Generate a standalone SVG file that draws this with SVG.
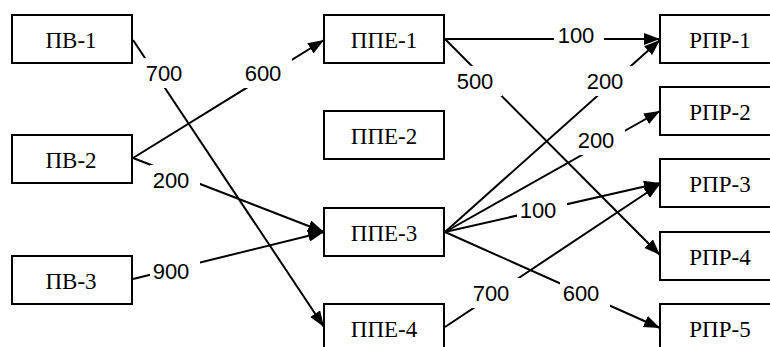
<svg xmlns="http://www.w3.org/2000/svg" width="770" height="347" viewBox="0 0 770 347">
<style>
.box{fill:#fff;stroke:#000;stroke-width:2}
.nt{font-family:'Liberation Serif','Times New Roman',serif;font-size:23px;fill:#000;text-anchor:middle}
.ln{stroke:#000;stroke-width:2;fill:none;marker-end:url(#ah)}
.lb{fill:#fff}
.lt{font-family:'Liberation Sans',Arial,sans-serif;font-size:22px;fill:#000;text-anchor:middle}
</style>
<defs>
<marker id="ah" markerUnits="userSpaceOnUse" markerWidth="18" markerHeight="12" refX="16" refY="6" orient="auto">
<path d="M0,0 L16,6 L0,12 Z" fill="#000"/>
</marker>
</defs>
<rect width="770" height="347" fill="#fff"/>
<g id="connectors">
<line class="ln" x1="133" y1="40" x2="324" y2="327"/>
<line class="ln" x1="133" y1="158" x2="324" y2="40"/>
<line class="ln" x1="133" y1="158" x2="324" y2="232"/>
<line class="ln" x1="133" y1="279" x2="324" y2="232"/>
<line class="ln" x1="445" y1="39" x2="660" y2="39"/>
<line class="ln" x1="445" y1="39" x2="660" y2="255"/>
<line class="ln" x1="445" y1="232" x2="660" y2="40"/>
<line class="ln" x1="445" y1="232" x2="660" y2="111"/>
<line class="ln" x1="445" y1="232" x2="660" y2="183"/>
<line class="ln" x1="445" y1="232" x2="660" y2="328"/>
<line class="ln" x1="445" y1="327" x2="660" y2="184"/>
<g id="labels">
<rect class="lb" x="142" y="58" width="50" height="30"/><text class="lt" x="164" y="81">700</text>
<rect class="lb" x="242" y="58" width="50" height="30"/><text class="lt" x="263" y="81">600</text>
<rect class="lb" x="150" y="165" width="50" height="30"/><text class="lt" x="171" y="188">200</text>
<rect class="lb" x="150" y="256" width="50" height="30"/><text class="lt" x="171" y="279">900</text>
<rect class="lb" x="554" y="20" width="50" height="30"/><text class="lt" x="576" y="43">100</text>
<rect class="lb" x="454" y="66" width="48" height="30"/><text class="lt" x="475" y="89">500</text>
<rect class="lb" x="584" y="66" width="50" height="30"/><text class="lt" x="605" y="89">200</text>
<rect class="lb" x="575" y="125" width="50" height="30"/><text class="lt" x="596" y="148">200</text>
<rect class="lb" x="517" y="195" width="50" height="30"/><text class="lt" x="538" y="218">100</text>
<rect class="lb" x="560" y="278" width="50" height="30"/><text class="lt" x="581" y="301">600</text>
<rect class="lb" x="470" y="278" width="50" height="30"/><text class="lt" x="491" y="301">700</text>
</g>
</g>
<g id="pv1"><rect class="box" x="12" y="15" width="120" height="48"/><text class="nt" x="71" y="48">ПВ-1</text></g>
<g id="pv2"><rect class="box" x="12" y="135" width="120" height="48"/><text class="nt" x="71" y="168">ПВ-2</text></g>
<g id="pv3"><rect class="box" x="12" y="256" width="120" height="48"/><text class="nt" x="71" y="289">ПВ-3</text></g>
<g id="ppe1"><rect class="box" x="324" y="15" width="120" height="48"/><text class="nt" x="384" y="48">ППЕ-1</text></g>
<g id="ppe2"><rect class="box" x="324" y="111" width="120" height="48"/><text class="nt" x="384" y="144">ППЕ-2</text></g>
<g id="ppe3"><rect class="box" x="324" y="208" width="120" height="48"/><text class="nt" x="384" y="241">ППЕ-3</text></g>
<g id="ppe4"><rect class="box" x="324" y="304" width="120" height="48"/><text class="nt" x="384" y="337">ППЕ-4</text></g>
<g id="rpr1"><rect class="box" x="660" y="15" width="120" height="48"/><text class="nt" x="720" y="48">РПР-1</text></g>
<g id="rpr2"><rect class="box" x="660" y="87" width="120" height="48"/><text class="nt" x="720" y="120">РПР-2</text></g>
<g id="rpr3"><rect class="box" x="660" y="159" width="120" height="48"/><text class="nt" x="720" y="192">РПР-3</text></g>
<g id="rpr4"><rect class="box" x="660" y="232" width="120" height="48"/><text class="nt" x="720" y="265">РПР-4</text></g>
<g id="rpr5"><rect class="box" x="660" y="304" width="120" height="48"/><text class="nt" x="720" y="337">РПР-5</text></g>
</svg>
